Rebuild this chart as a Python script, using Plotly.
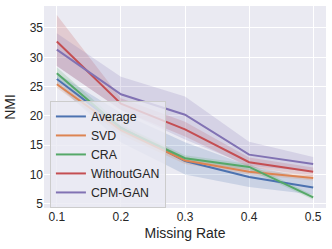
import plotly.graph_objects as go

missing_rate = [0.1, 0.2, 0.3, 0.4, 0.5]
series_names = ["Average", "SVD", "CRA", "WithoutGAN", "CPM-GAN"]

avg_mean = [26.3, 18.0, 12.3, 9.6, 7.8]
avg_low = [25.3, 15.5, 10.0, 7.9, 6.6]
avg_high = [27.3, 20.5, 15.5, 11.5, 9.2]

svd_mean = [25.4, 17.6, 12.4, 10.5, 9.4]
svd_low = [24.8, 16.8, 11.8, 10.0, 9.0]
svd_high = [26.0, 18.4, 13.0, 11.0, 9.8]

cra_mean = [27.3, 17.9, 12.8, 11.3, 6.1]
cra_low = [26.5, 17.2, 12.3, 10.8, 5.7]
cra_high = [28.3, 18.6, 13.3, 11.8, 6.5]

wog_mean = [32.7, 22.1, 17.7, 12.1, 10.5]
wog_low = [28.5, 21.0, 16.5, 11.3, 9.7]
wog_high = [37.2, 23.0, 19.0, 12.9, 11.2]

cpm_mean = [31.3, 23.7, 20.2, 13.4, 11.8]
cpm_low = [28.5, 21.0, 16.0, 11.5, 10.5]
cpm_high = [34.1, 26.7, 23.3, 15.6, 13.0]

x_ticks = [0.1, 0.2, 0.3, 0.4, 0.5]
y_ticks = [5, 10, 15, 20, 25, 30, 35]

colors = ["#4C72B0", "#DD8452", "#55A868", "#C44E52", "#8172B3"]
fills = ["rgba(76,114,176,0.2)", "rgba(221,132,82,0.2)", "rgba(85,168,104,0.2)",
         "rgba(196,78,82,0.2)", "rgba(129,114,179,0.2)"]

data = [
    (avg_mean, avg_low, avg_high),
    (svd_mean, svd_low, svd_high),
    (cra_mean, cra_low, cra_high),
    (wog_mean, wog_low, wog_high),
    (cpm_mean, cpm_low, cpm_high),
]

fig = go.Figure()
for i, (m, lo, hi) in enumerate(data):
    fig.add_trace(go.Scatter(
        x=missing_rate + missing_rate[::-1],
        y=hi + lo[::-1],
        fill="toself", fillcolor=fills[i],
        line=dict(width=0), mode="lines",
        showlegend=False, hoverinfo="skip",
    ))
for i, (m, lo, hi) in enumerate(data):
    fig.add_trace(go.Scatter(
        x=missing_rate, y=m, mode="lines", name=series_names[i],
        line=dict(color=colors[i], width=2),
    ))

font = "Liberation Sans, Arial, sans-serif"
fig.update_layout(
    width=332, height=249,
    margin=dict(l=44, r=6, t=6, b=41, autoexpand=False),
    paper_bgcolor="white", plot_bgcolor="#EAEAF2",
    font=dict(family=font, color="#262626", size=12),
    legend=dict(
        x=0.021, y=0.53, xanchor="left", yanchor="top",
        bgcolor="rgba(234,234,242,0.8)", bordercolor="#CCCCCC", borderwidth=1,
        font=dict(size=12.3, color="#262626"),
        tracegroupgap=0, itemwidth=30,
    ),
    showlegend=True,
)
fig.update_xaxes(
    range=[0.08, 0.52], tickvals=x_ticks, ticktext=[str(v) for v in x_ticks],
    showgrid=True, gridcolor="white", gridwidth=1, zeroline=False,
    showline=False, ticks="", tickfont=dict(size=12), automargin=False,
    title=dict(text="Missing Rate", font=dict(size=14), standoff=5),
)
fig.update_yaxes(
    range=[4.3, 38.75], tickvals=y_ticks,
    showgrid=True, gridcolor="white", gridwidth=1, zeroline=False,
    showline=False, ticks="", tickfont=dict(size=12), automargin=False,
    title=dict(text="NMI", font=dict(size=14), standoff=10),
)

fig.write_html("out.html", config={"displayModeBar": False},
               post_script="document.body.style.margin='0px';document.body.style.padding='0px';")
